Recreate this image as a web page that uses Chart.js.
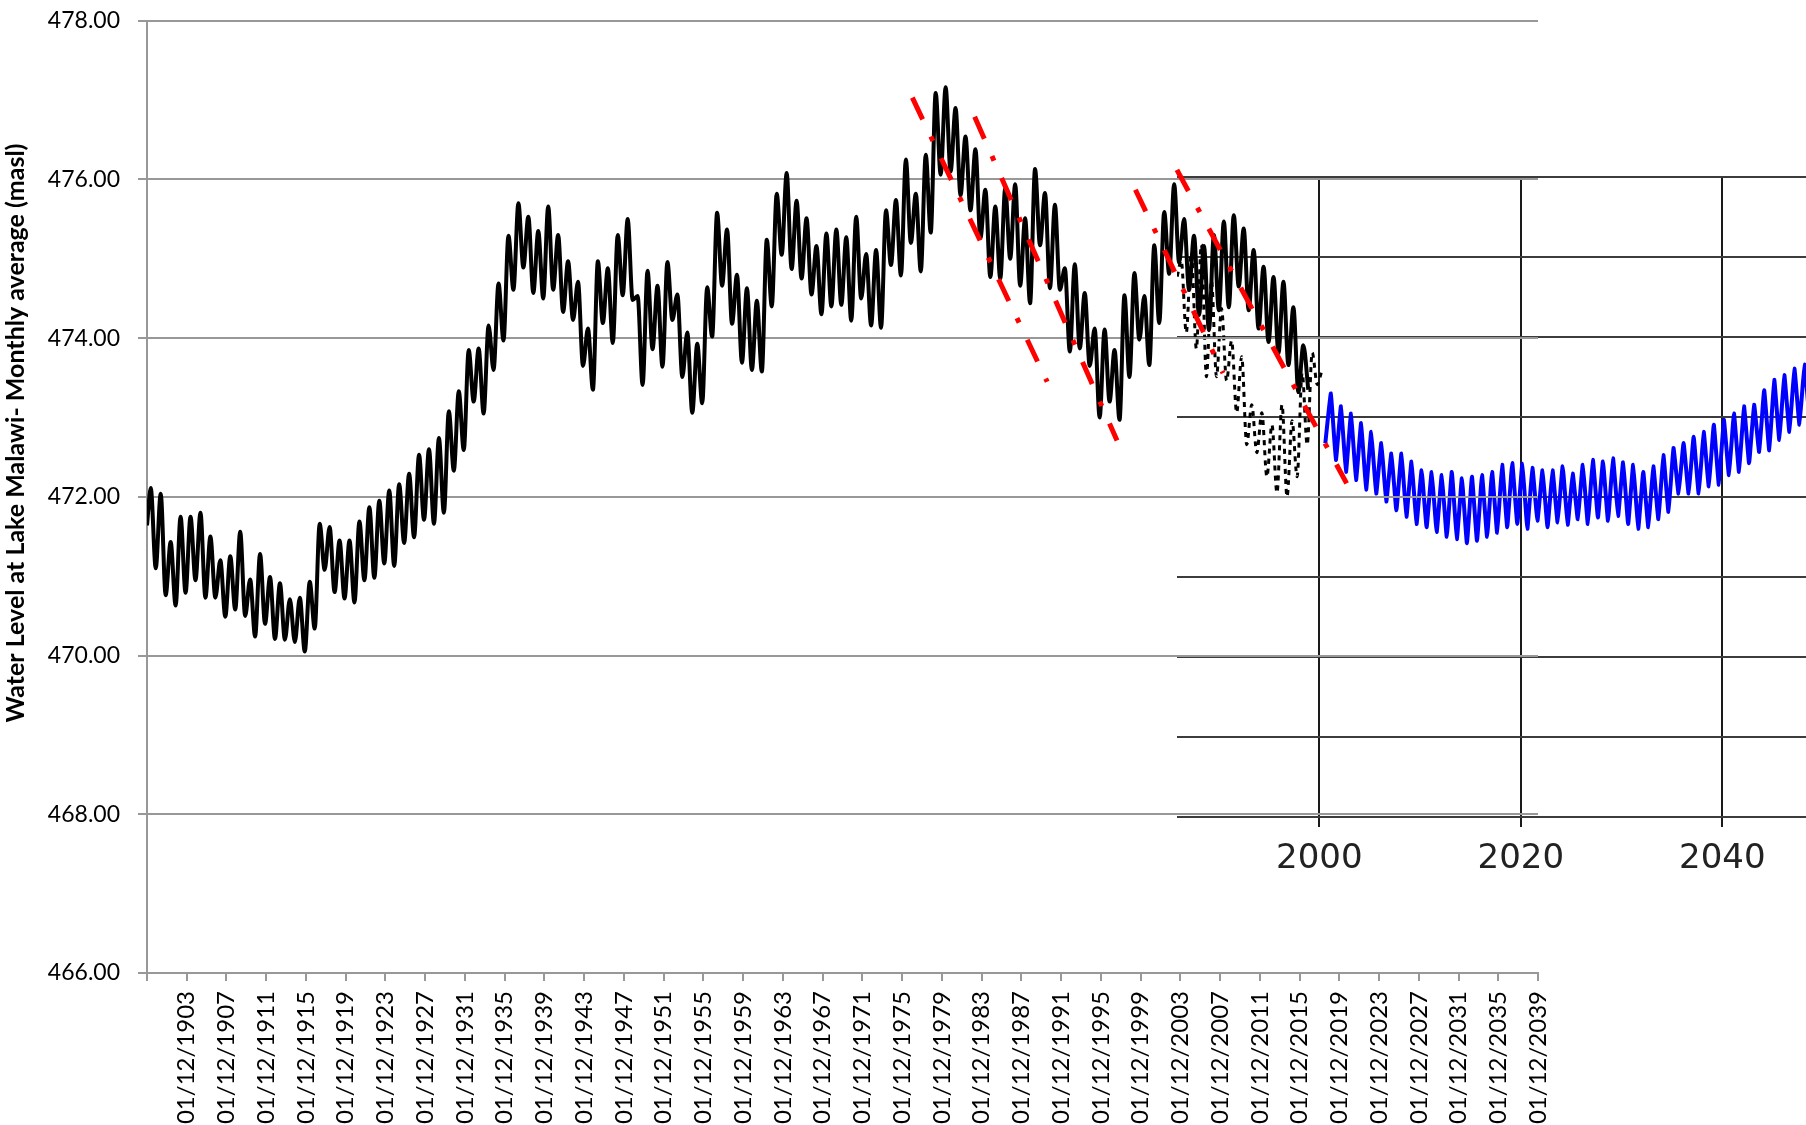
<!DOCTYPE html>
<html>
<head>
<meta charset="utf-8">
<script src="https://cdn.jsdelivr.net/npm/chart.js@4.4.1/dist/chart.umd.min.js"></script>
<style>
  body { margin: 0; background: #fff; }
  #wrap { position: relative; width: 1806px; height: 1125px; overflow: hidden; }
  #main { position: absolute; left: 0; top: 0; z-index: 2; }
  #overlay { position: absolute; left: 1177px; top: 170px; z-index: 1; }
</style>
</head>
<body>
<div id="wrap">
  <canvas id="overlay" width="629" height="720"></canvas>
  <canvas id="main" width="1806" height="1125"></canvas>
</div>
<script>
// observed lake levels (masl), one seasonal high and low per year
var firstYear = 1899;
var startLevel = 471.64;
var peakLevel = [
  472.11, 472.04, 471.43, 471.75, 471.75, 471.80, 471.50, 471.20, 471.25, 471.56,
  470.96, 471.28, 470.99, 470.91, 470.71, 470.73, 470.93, 471.66, 471.62, 471.45,
  471.45, 471.69, 471.87, 471.95, 472.08, 472.16, 472.29, 472.53, 472.60, 472.74,
  473.08, 473.33, 473.85, 473.87, 474.16, 474.69, 475.29, 475.70, 475.53, 475.35,
  475.66, 475.30, 474.97, 474.71, 474.12, 474.97, 474.88, 475.30, 475.50, 474.53,
  474.85, 474.66, 474.96, 474.55, 474.07, 473.93, 474.64, 475.58, 475.37, 474.80,
  474.63, 474.47, 475.24, 475.82, 476.08, 475.73, 475.51, 475.16, 475.32, 475.37,
  475.27, 475.53, 475.06, 475.11, 475.61, 475.74, 476.25, 475.82, 476.31, 477.09,
  477.16, 476.90, 476.54, 476.38, 475.87, 475.66, 475.89, 475.94, 475.51, 476.13,
  475.83, 475.68, 474.88, 474.93, 474.57, 474.12, 474.11, 473.85, 474.54, 474.82,
  474.53, 475.17, 475.59, 475.94, 475.50, 475.29, 475.16, 475.30, 475.47, 475.55,
  475.38, 475.11, 474.90, 474.77, 474.71, 474.39, 473.91
];
var lowLevel = [
  471.10, 470.76, 470.63, 470.79, 470.95, 470.73, 470.73, 470.49, 470.58, 470.50,
  470.24, 470.40, 470.21, 470.20, 470.17, 470.05, 470.34, 471.08, 470.80, 470.72,
  470.67, 470.95, 470.98, 471.16, 471.13, 471.42, 471.49, 471.71, 471.66, 471.80,
  472.33, 472.59, 473.20, 473.05, 473.60, 473.97, 474.61, 474.89, 474.57, 474.50,
  474.61, 474.33, 474.23, 473.65, 473.35, 474.19, 473.94, 474.54, 474.48, 473.41,
  473.86, 473.64, 474.23, 473.51, 473.06, 473.18, 474.02, 474.66, 474.18, 473.69,
  473.60, 473.58, 474.40, 475.05, 474.87, 474.75, 474.55, 474.30, 474.40, 474.42,
  474.22, 474.50, 474.16, 474.13, 474.92, 474.79, 475.20, 474.84, 475.33, 476.06,
  476.10, 475.80, 475.61, 475.26, 474.77, 474.75, 475.00, 474.66, 474.44, 475.17,
  474.63, 474.61, 473.83, 473.87, 473.65, 473.00, 473.20, 472.97, 473.51, 473.98,
  473.66, 474.19, 474.81, 474.95, 474.61, 474.29, 474.10, 474.35, 474.39, 474.65,
  474.35, 474.12, 473.95, 473.81, 473.66, 473.32, 473.35
];

// red trend lines: [startYear, startLevel, endYear, endLevel]
var trendLines = [
  [1976.03, 477.03, 1989.60, 473.45],
  [1982.30, 476.79, 1996.63, 472.71],
  [1998.48, 475.87, 2007.30, 473.56],
  [2002.66, 476.12, 2019.74, 472.17]
];

var tickYears = [1899, 1903, 1907, 1911, 1915, 1919, 1923, 1927, 1931, 1935, 1939,
  1943, 1947, 1951, 1955, 1959, 1963, 1967, 1971, 1975, 1979, 1983, 1987, 1991,
  1995, 1999, 2003, 2007, 2011, 2015, 2019, 2023, 2027, 2031, 2035, 2039];

// inset: simulated levels (dotted) and projection (blue)
var dotFirstYear = 1986;
var dotStart = 474.75;
var dotEnd = 473.55;
var dotPeak = [474.95, 475.05, 475.15, 474.70, 474.35, 473.95, 473.75, 473.15, 473.05, 472.90, 473.15, 472.95, 473.55, 473.80];
var dotLow = [474.05, 473.85, 473.50, 473.50, 473.45, 473.05, 472.65, 472.55, 472.25, 472.05, 472.00, 472.25, 472.65, 473.40];

var blueFirstYear = 2001;
var blueStart = 472.67;
var bluePeak = [
  473.29, 473.13, 473.04, 472.92, 472.81, 472.67, 472.54, 472.54, 472.44, 472.33,
  472.31, 472.27, 472.31, 472.23, 472.25, 472.27, 472.31, 472.40, 472.42, 472.41,
  472.36, 472.33, 472.33, 472.38, 472.29, 472.40, 472.46, 472.44, 472.48, 472.43,
  472.40, 472.31, 472.38, 472.52, 472.61, 472.67, 472.75, 472.81, 472.90, 472.96,
  473.04, 473.13, 473.15, 473.33, 473.46, 473.52, 473.60, 473.65
];
var blueLow = [
  472.46, 472.31, 472.21, 472.09, 472.04, 471.94, 471.83, 471.75, 471.66, 471.62,
  471.56, 471.50, 471.47, 471.42, 471.45, 471.50, 471.55, 471.62, 471.66, 471.60,
  471.70, 471.62, 471.68, 471.65, 471.72, 471.66, 471.74, 471.70, 471.76, 471.66,
  471.60, 471.62, 471.72, 471.81, 472.04, 472.04, 472.04, 472.13, 472.15, 472.27,
  472.31, 472.42, 472.56, 472.58, 472.71, 472.81, 472.90, 472.95
];
var insetTicks = [2000, 2020, 2040];

var yTitleText = 'Water Level at Lake Malawi- Monthly average (masl)';

var seasonal = (year0, first, peaks, lows, pOff, lOff) => {
  var pts = first;
  peaks.forEach((p, i) => {
    pts.push({x: year0 + i + pOff, y: p});
    pts.push({x: year0 + i + lOff, y: lows[i]});
  });
  return pts;
};

var blackPts = seasonal(firstYear, [{x: firstYear, y: startLevel}], peakLevel, lowLevel, 0.38, 0.88);
var dotPts = seasonal(dotFirstYear, [{x: 1985.9, y: dotStart}], dotPeak, dotLow, 0.3, 0.8);
dotPts.push({x: 2000.2, y: dotEnd});
var bluePts = seasonal(blueFirstYear, [{x: 2000.6, y: blueStart}], bluePeak, blueLow, 0.15, 0.65);

var gray = '#989898';

var trendSets = trendLines.map(t => ({
  data: [{x: t[0], y: t[1]}, {x: t[2], y: t[3]}],
  borderColor: '#ff0000',
  borderWidth: 5,
  borderDash: [24, 19, 5, 19],
  borderCapStyle: 'butt',
  order: 0
}));

var yTitle = {
  id: 'yTitle',
  afterDraw: chart => {
    var ctx = chart.ctx;
    ctx.save();
    ctx.translate(16, 433);
    ctx.rotate(-Math.PI / 2);
    ctx.font = 'bold 25px Lato';
    ctx.textAlign = 'center';
    ctx.textBaseline = 'middle';
    ctx.fillStyle = '#000';
    ctx.fillText(yTitleText, 0, 0);
    ctx.restore();
  }
};

new Chart(document.getElementById('main'), {
  type: 'line',
  data: {
    datasets: trendSets.concat([{
      data: blackPts,
      borderColor: '#000',
      borderWidth: 4,
      cubicInterpolationMode: 'monotone',
      order: 1
    }])
  },
  options: {
    responsive: false,
    animation: false,
    layout: {padding: {top: 20.7, right: 268, left: 0, bottom: 0}},
    elements: {point: {radius: 0}},
    plugins: {legend: {display: false}, tooltip: {enabled: false}},
    scales: {
      x: {
        type: 'linear',
        min: 1899,
        max: 2039,
        afterBuildTicks: s => { s.ticks = tickYears.map(v => ({value: v})); },
        afterFit: s => { s.height = 152; s.paddingLeft = 0; s.paddingRight = 0; },
        ticks: {
          autoSkip: false, maxRotation: 90, minRotation: 90, padding: 10,
          color: '#000', font: {family: 'Lato', size: 24},
          callback: v => v === firstYear ? '' : '01/12/' + v
        },
        grid: {drawOnChartArea: false, color: gray, lineWidth: 2, tickLength: 8},
        border: {color: gray, width: 2}
      },
      y: {
        min: 466,
        max: 478,
        afterFit: s => { s.width = 147; s.paddingTop = 0; s.paddingBottom = 0; },
        ticks: {stepSize: 2, padding: 18, color: '#000', font: {family: 'Lato', size: 23}, callback: v => v.toFixed(2)},
        grid: {color: gray, lineWidth: 2, tickLength: 9},
        border: {color: gray, width: 2}
      }
    }
  },
  plugins: [yTitle]
});

new Chart(document.getElementById('overlay'), {
  type: 'line',
  data: {
    datasets: [{
      data: bluePts,
      borderColor: '#0000ff',
      borderWidth: 4,
      tension: 0.1
    }, {
      data: dotPts,
      borderColor: '#000',
      borderWidth: 3,
      borderDash: [5, 5],
      cubicInterpolationMode: 'monotone'
    }]
  },
  options: {
    responsive: false,
    animation: false,
    layout: {padding: {top: 6.5, right: 0, left: 0, bottom: 0}},
    elements: {point: {radius: 0}},
    plugins: {legend: {display: false}, tooltip: {enabled: false}},
    scales: {
      x: {
        type: 'linear',
        min: 1985.88,
        max: 2048.3,
        afterBuildTicks: s => { s.ticks = insetTicks.map(v => ({value: v})); },
        afterFit: s => { s.height = 73; },
        ticks: {maxRotation: 0, padding: 12, color: '#222', font: {family: 'DejaVu Sans', size: 34}, callback: v => String(v)},
        grid: {color: '#1a1a1a', lineWidth: 2, tickLength: 10},
        border: {display: false}
      },
      y: {
        min: 468,
        max: 476,
        afterFit: s => { s.width = 0; },
        ticks: {display: false, stepSize: 1},
        grid: {color: '#3c3c3c', lineWidth: 2, drawTicks: false},
        border: {display: false}
      }
    }
  }
});
</script>
</body>
</html>
